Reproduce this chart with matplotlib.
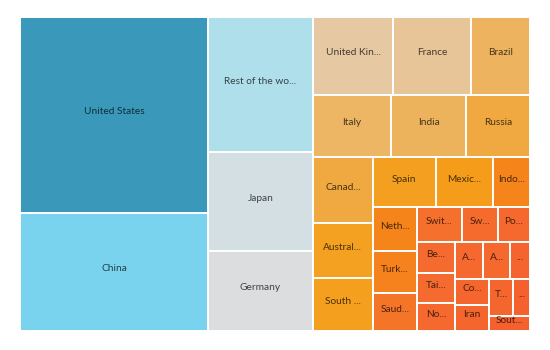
import matplotlib
matplotlib.use("Agg")
import matplotlib.pyplot as plt
import numpy as np
from matplotlib.colors import LinearSegmentedColormap
from matplotlib.patches import Rectangle

# GDP by country (billions of US$), in the order the source feeds the treemap.
# Labels are written the way the tiles print them (long names get cut short).
labels = ["United States", "China", "Rest of the wo...", "Japan", "Germany",
          "United Kin...", "France", "Brazil", "Italy", "India", "Russia",
          "Canad...", "Austral...", "South ...", "Spain", "Mexic...", "Indo...",
          "Neth...", "Turk...", "Saud...", "Swit...", "Sw...", "Po...",
          "Be...", "Tai...", "No...", "A...", "A...", "...", "Co...", "Iran",
          "T...", "...", "Sout..."]
gdp = [17418, 10486, 6730, 4884, 3971, 2972, 2865, 2195, 2284, 2170, 1875,
       1879, 1552, 1479, 1507, 1363, 892, 909, 880, 778, 732, 585, 525,
       572, 543, 496, 484, 485, 345, 422, 417, 420, 292, 283]

# colour scale over log(value): red-orange for the small ones up to teal
stops = [(0.0, "#f5602f"), (0.18, "#f56b2e"), (0.235, "#f5702c"),
         (0.26, "#f57e21"), (0.28, "#f5841b"), (0.38, "#f59d1a"),
         (0.41, "#f4a020"), (0.46, "#f0a842"), (0.50, "#edb460"),
         (0.56, "#e8c597"), (0.64, "#dcdddf"), (0.69, "#d3dfe3"),
         (0.77, "#afdfec"), (0.88, "#78d3ee"), (1.0, "#3a99bb")]
cmap = LinearSegmentedColormap.from_list("gdp", stops)

W, H = 510.0, 314.0   # drawing area in pixels


def ratio(a, total, side):
    t = total / side              # thickness of the strip
    ln = a / t                    # length of the tile along the strip
    return max(t / ln, ln / t)


def treemap(sizes, x, y, w, h):
    # squarified layout; a strip keeps growing while its last tile gets no worse
    out = []
    i, n = 0, len(sizes)
    while i < n:
        column = w >= h
        side = h if column else w
        row = [sizes[i]]
        j = i + 1
        while j < n:
            s = sum(row)
            if ratio(row[-1], s + sizes[j], side) > ratio(row[-1], s, side):
                break
            row.append(sizes[j])
            j += 1
        s = sum(row)
        if column:
            cw = s / h
            yy = y
            for a in row:
                out.append((x, yy, cw, a / cw))
                yy += a / cw
            x, w = x + cw, w - cw
        else:
            rh = s / w
            xx = x
            for a in row:
                out.append((xx, y, a / rh, rh))
                xx += a / rh
            y, h = y + rh, h - rh
        i = j
    return out


vals = np.array(gdp, dtype=float)
areas = vals / vals.sum() * W * H
rects = treemap(list(areas), 0.0, 0.0, W, H)

lv = np.log(vals)
cnorm = (lv - lv.min()) / (lv.max() - lv.min())

fig = plt.figure(figsize=(5.5, 3.5), dpi=100)
ax = fig.add_axes([20 / 550, 1 - 330.7 / 350, W / 550, H / 350])
for (x, y, w, h), lab, c in zip(rects, labels, cnorm):
    ax.add_patch(Rectangle((x, y), w, h, facecolor=cmap(c),
                           edgecolor="white", linewidth=1.4))
    ax.text(x + w / 2, y + h / 2 - 3, lab, ha="center", va="center",
            fontsize=7.3, family=["Lato", "DejaVu Sans"], color=(0, 0, 0, 0.7))

ax.set_xlim(0, W)
ax.set_ylim(H, 0)
ax.axis("off")
fig.savefig("out.png", dpi=100, facecolor="white")
